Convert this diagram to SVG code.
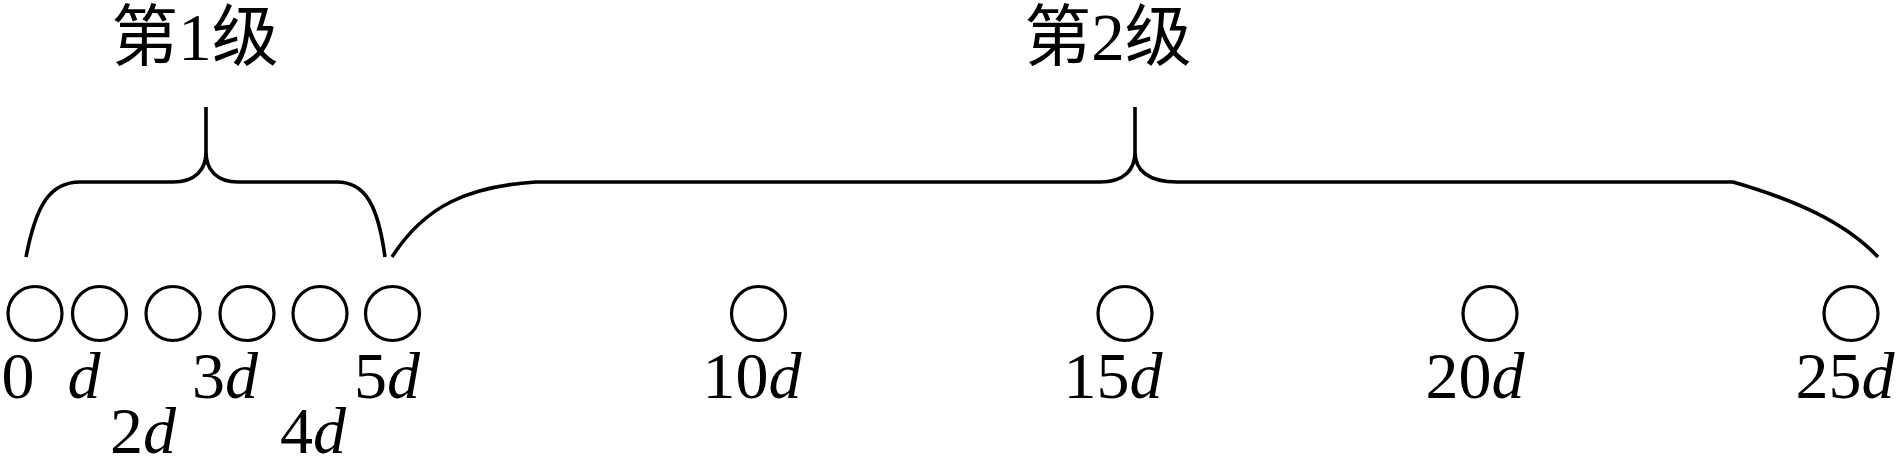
<svg xmlns="http://www.w3.org/2000/svg" width="1900" height="475" viewBox="0 0 1900 475">
<style>
.n{fill:none;stroke:#000;stroke-width:3.2}
.br{fill:none;stroke:#000;stroke-width:3.6;stroke-linejoin:round}
.lb{font-family:"Liberation Serif","Noto Sans CJK SC",serif;font-size:66px;fill:#000;text-anchor:middle}
.tt{font-family:"Liberation Serif","Noto Sans CJK SC",serif;font-size:67px;fill:#000;text-anchor:middle}
.i{font-style:italic}
</style>
<rect width="1900" height="475" fill="#fff"/>
<g id="connectors">
<path class="br" d="M26,257 C36,205 50,182 80,182 L173,182 C195,182 206,170 206,152 L206,107 M206,152 C206,170 217,182 238,182 L337,182 C365,182 378,205 385,257"/>
<path class="br" d="M392,257 C425,205 470,186 536,182 L1100,182 C1124,182 1135,170 1135,152 L1135,107 M1135,152 C1135,170 1148,182 1177,182 L1733,182 C1795,200 1845,222 1878,257"/>
</g>
<g id="title1"><text class="tt" x="195" y="60">第1级</text></g>
<g id="title2"><text class="tt" x="1108" y="60">第2级</text></g>
<g id="n0"><circle class="n" cx="35" cy="313.5" r="27"/><text class="lb" x="18" y="398">0</text></g>
<g id="n1"><circle class="n" cx="99.5" cy="313.5" r="27"/><text class="lb i" x="84" y="398">d</text></g>
<g id="n2"><circle class="n" cx="173" cy="313.5" r="27"/><text class="lb" x="143" y="453">2<tspan class="i">d</tspan></text></g>
<g id="n3"><circle class="n" cx="247" cy="313.5" r="27"/><text class="lb" x="225" y="398">3<tspan class="i">d</tspan></text></g>
<g id="n4"><circle class="n" cx="320" cy="313.5" r="27"/><text class="lb" x="313" y="453">4<tspan class="i">d</tspan></text></g>
<g id="n5"><circle class="n" cx="392.5" cy="313.5" r="27"/><text class="lb" x="387" y="398">5<tspan class="i">d</tspan></text></g>
<g id="n10"><circle class="n" cx="758.5" cy="313.5" r="27"/><text class="lb" x="752" y="398">10<tspan class="i">d</tspan></text></g>
<g id="n15"><circle class="n" cx="1125" cy="313.5" r="27"/><text class="lb" x="1113" y="398">15<tspan class="i">d</tspan></text></g>
<g id="n20"><circle class="n" cx="1490" cy="313.5" r="27"/><text class="lb" x="1475" y="398">20<tspan class="i">d</tspan></text></g>
<g id="n25"><circle class="n" cx="1851" cy="313.5" r="27"/><text class="lb" x="1845" y="398">25<tspan class="i">d</tspan></text></g>
</svg>
